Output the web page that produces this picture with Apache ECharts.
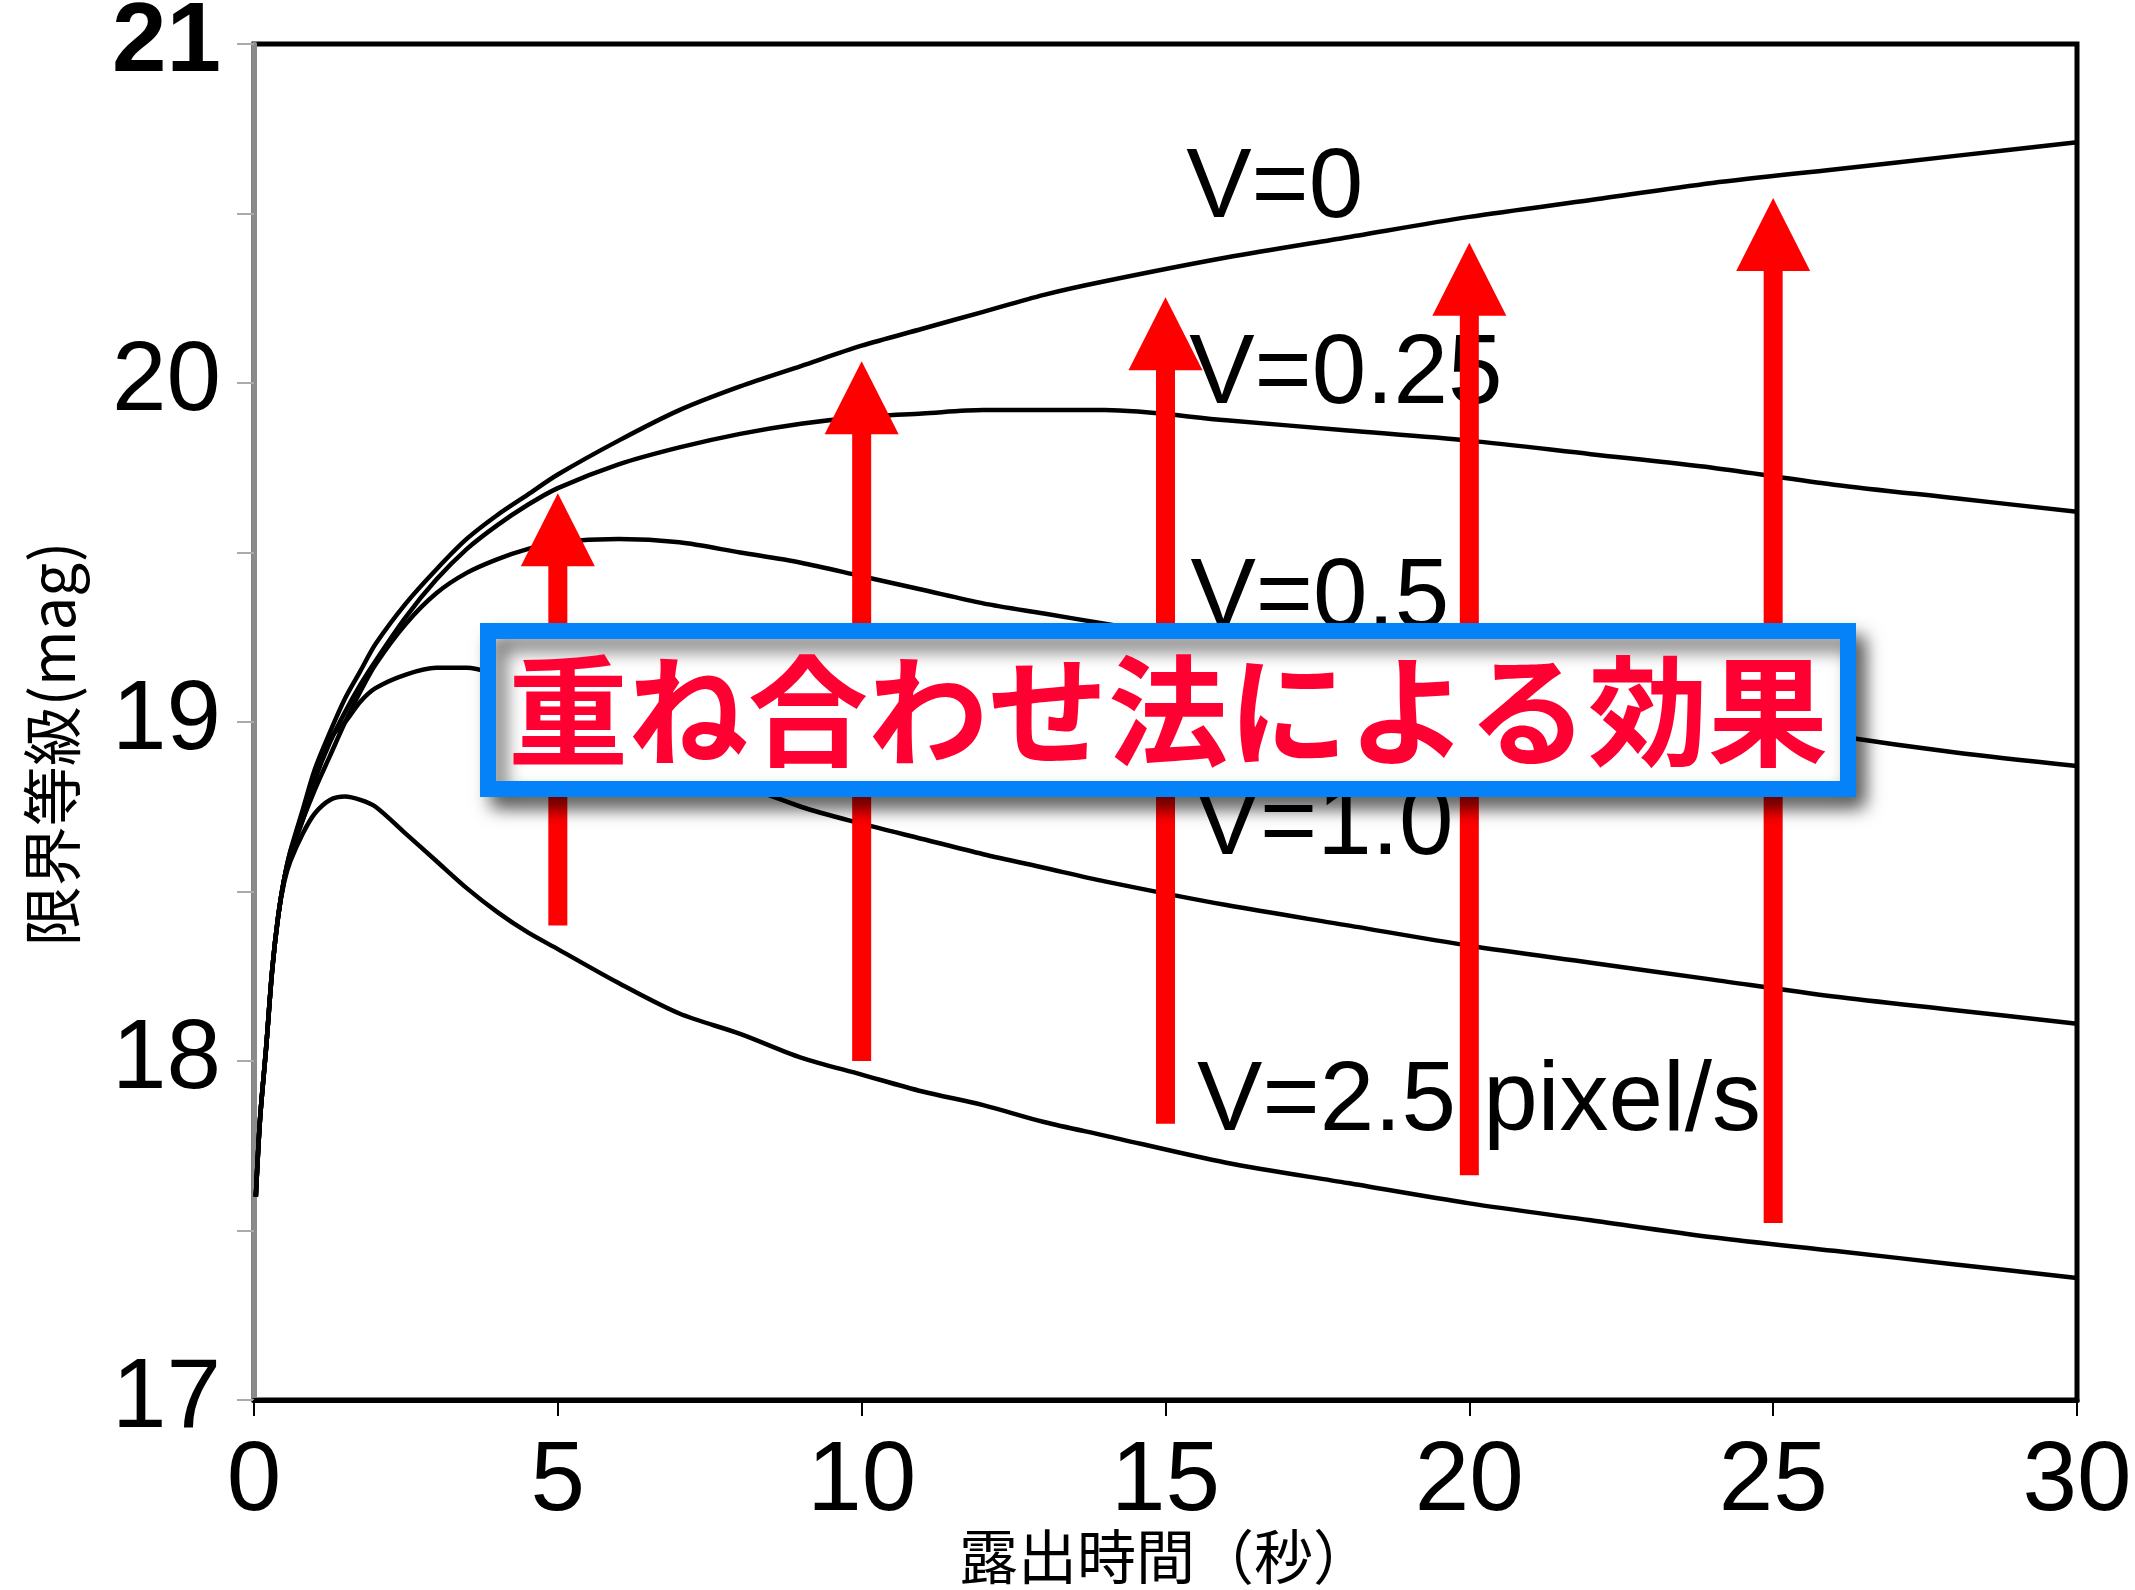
<!DOCTYPE html>
<html>
<head>
<meta charset="utf-8">
<script src="https://cdn.jsdelivr.net/npm/echarts@6/dist/echarts.min.js"></script>
<style>
html,body{margin:0;padding:0;background:#fff;}
#chart{width:2135px;height:1590px;}
</style>
</head>
<body>
<div id="chart"></div>
<script>
// ---- data ----
const timeSec = [0.03, 0.1, 0.2, 0.3, 0.4, 0.5, 0.6, 0.8, 1.0, 1.25, 1.5, 1.75, 2, 2.5, 3, 3.5, 4, 4.5, 5, 6, 7, 8, 9, 10, 11, 12, 13, 14, 16, 18, 20, 22, 24, 26, 28, 30];

const magV0   = [17.60,17.83,18.04,18.27,18.43,18.54,18.62, 18.74,18.86,18.97,19.07,19.15,19.23, 19.35,19.45,19.54,19.61,19.67,19.73, 19.83,19.92,19.99,20.05,20.11, 20.16,20.21,20.26,20.30, 20.37,20.43,20.49,20.54,20.59,20.63,20.67,20.71];
const magV025 = [17.60,17.83,18.04,18.27,18.43,18.54,18.62, 18.72,18.83,18.94,19.03,19.11,19.18, 19.31,19.42,19.51,19.58,19.64,19.69, 19.76,19.81,19.85,19.88,19.90, 19.91,19.92,19.92,19.92, 19.89,19.86,19.83,19.79,19.75,19.70,19.66,19.62];
const magV05  = [17.60,17.83,18.04,18.27,18.43,18.54,18.61, 18.71,18.80,18.90,19.00,19.09,19.17, 19.29,19.38,19.44,19.48,19.51,19.53, 19.54,19.53,19.50,19.47,19.43, 19.39,19.35,19.32,19.29, 19.23,19.17,19.12,19.07,19.02,18.96,18.91,18.87];
const magV10  = [17.60,17.83,18.04,18.27,18.43,18.54,18.61, 18.71,18.83,18.95,19.00,19.06,19.10, 19.14,19.16,19.16,19.14,19.11,19.08, 19.00,18.91,18.82,18.75,18.70, 18.655,18.61,18.57,18.53, 18.46,18.40,18.34,18.29,18.24,18.19,18.15,18.11];
const magV25  = [17.60,17.83,18.04,18.27,18.43,18.53,18.59, 18.67,18.73,18.77,18.78,18.77,18.75, 18.67,18.59,18.51,18.44,18.38,18.33, 18.23,18.14,18.08,18.01,17.96, 17.91,17.87,17.82,17.78, 17.70,17.64,17.58,17.53,17.48,17.44,17.40,17.36];

const curveLabels = ['V=0', 'V=0.25', 'V=0.5', 'V=1.0', 'V=2.5 pixel/s'];
const curveLabelX = [15.34, 15.39, 15.41, 15.48, 15.52];
const curveLabelY = [20.57, 20.02, 19.36, 18.69, 17.875];

const arrowX      = [5, 10, 15, 20, 25];
const arrowBottom = [18.40, 18.00, 17.815, 17.663, 17.522];
const arrowTip    = [19.675, 20.064, 20.253, 20.414, 20.546];

const xTicks = [0, 5, 10, 15, 20, 25, 30];
const yTicks = [17, 18, 19, 20, 21];

const xAxisTitle = '露出時間（秒）';
const yAxisTitle = '限界等級(mag)';
const boxTitle = '重ね合わせ法による効果';

// ---- chart ----
const numFont = '"Liberation Sans", Arial, Helvetica, sans-serif';
const jpFont = '"Noto Sans CJK JP", sans-serif';

function pairs(ys) { return timeSec.map((t, i) => [t, ys[i]]); }

const lineSeries = [magV0, magV025, magV05, magV10, magV25].map((ys, i) => ({
  type: 'line',
  name: curveLabels[i],
  data: pairs(ys),
  showSymbol: false,
  smooth: 0.3,
  lineStyle: { color: '#000', width: 4.5 },
  z: 2,
  animation: false
}));

const chart = echarts.init(document.getElementById('chart'));
chart.setOption({
  animation: false,
  backgroundColor: '#fff',
  grid: {
    left: 254, right: 58, top: 44, bottom: 190,
    outerBoundsMode: 'none', containLabel: false,
    show: true, borderColor: '#000', borderWidth: 5, backgroundColor: 'transparent'
  },
  xAxis: {
    type: 'value', min: xTicks[0], max: xTicks[xTicks.length - 1], interval: 5,
    name: xAxisTitle, nameLocation: 'middle', nameGap: 127, nameMoveOverlap: false,
    nameTextStyle: { fontFamily: jpFont, fontSize: 59, color: '#000' },
    axisLine: { show: true, lineStyle: { color: '#000', width: 5 } },
    axisTick: { show: true, inside: false, length: 16, lineStyle: { color: '#000', width: 2 } },
    axisLabel: { margin: 34, fontFamily: numFont, fontSize: 98, color: '#000',
      formatter: v => xTicks.indexOf(v) >= 0 ? String(v) : '' },
    splitLine: { show: false }
  },
  yAxis: {
    type: 'value', min: yTicks[0], max: yTicks[yTicks.length - 1], interval: 0.5,
    name: yAxisTitle, nameLocation: 'middle', nameGap: 172, nameMoveOverlap: false,
    nameTextStyle: { fontFamily: jpFont, fontSize: 60, color: '#000', padding: [0, 44, 0, 0] },
    axisLine: { show: true, lineStyle: { color: '#8a8a8a', width: 5 } },
    axisTick: { show: true, inside: false, length: 17, lineStyle: { color: '#aaa', width: 2 } },
    axisLabel: {
      margin: 33, fontFamily: numFont, fontSize: 98, color: '#000',
      formatter: v => {
        if (yTicks.indexOf(v) < 0) return '';
        return v === 21 ? '{b|' + v + '}' : String(v);
      },
      rich: { b: { fontFamily: numFont, fontSize: 98, fontWeight: 'bold', color: '#000' } }
    },
    splitLine: { show: false }
  },
  series: lineSeries.concat([
    {
      type: 'custom',
      z: 3,
      clip: false,
      silent: true,
      data: curveLabels.map((t, i) => [curveLabelX[i], curveLabelY[i], i]),
      renderItem: function (params, api) {
        const p = api.coord([api.value(0), api.value(1)]);
        return {
          type: 'text',
          x: p[0], y: p[1],
          style: { text: curveLabels[api.value(2)], fill: '#000', fontFamily: numFont, fontSize: 98,
            align: 'left', verticalAlign: 'middle' }
        };
      }
    },
    {
      type: 'custom',
      z: 4,
      clip: false,
      silent: true,
      data: arrowX.map((x, i) => [x, arrowBottom[i], arrowTip[i]]),
      renderItem: function (params, api) {
        const pb = api.coord([api.value(0), api.value(1)]);
        const pt = api.coord([api.value(0), api.value(2)]);
        const headH = 73, headW = 74, shaftW = 19;
        const cx = pt[0];
        return {
          type: 'group',
          children: [
            { type: 'rect', shape: { x: cx - shaftW / 2, y: pt[1] + headH - 2, width: shaftW, height: pb[1] - pt[1] - headH + 2 },
              style: { fill: '#ff0000' } },
            { type: 'polygon', shape: { points: [[cx - headW / 2, pt[1] + headH], [cx + headW / 2, pt[1] + headH], [cx, pt[1]]] },
              style: { fill: '#ff0000' } }
          ]
        };
      }
    }
  ]),
  graphic: [
    { type: 'rect', z: 100, zlevel: 1, shape: { x: 488, y: 631, width: 1360, height: 158 },
      style: { fill: '#fff', stroke: '#0582f8', lineWidth: 16,
        shadowBlur: 18, shadowColor: 'rgba(0,0,0,0.55)', shadowOffsetX: 10, shadowOffsetY: 12 } },
    { type: 'text', z: 101, zlevel: 1, x: 1168, y: 711,
      style: { text: boxTitle, fill: '#ff0033', fontFamily: jpFont, fontSize: 120, fontWeight: 'bold',
        align: 'center', verticalAlign: 'middle' } }
  ]
});
</script>
</body>
</html>
